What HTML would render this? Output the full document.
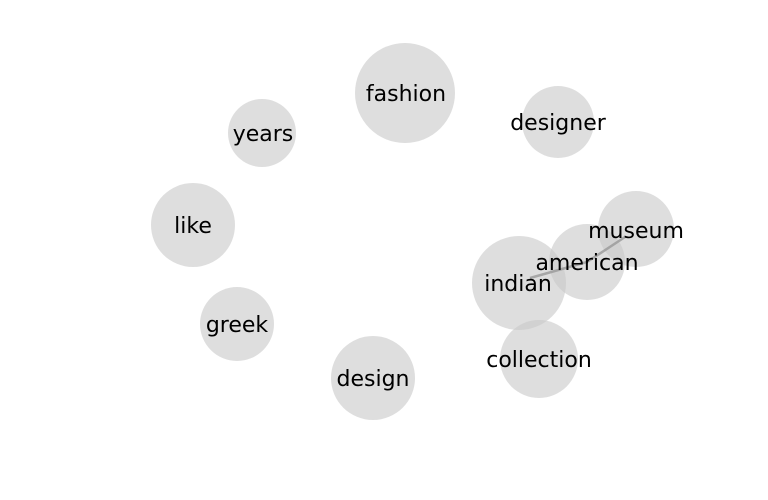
<!DOCTYPE html>
<html><head><style>html,body{margin:0;padding:0;background:#fff;overflow:hidden}svg{display:block}</style></head>
<body>
<svg width="768" height="500" xmlns="http://www.w3.org/2000/svg" font-family="DejaVu Sans, Liberation Sans, sans-serif" font-size="22" text-anchor="middle">
<rect width="768" height="500" fill="#fff"/>
<g fill="#c8c8c8" fill-opacity="0.6">
<circle cx="405" cy="93" r="50"/>
<circle cx="262" cy="133" r="34"/>
<circle cx="558" cy="122" r="36"/>
<circle cx="193" cy="225" r="42"/>
<circle cx="636" cy="229" r="38"/>
<circle cx="587" cy="262" r="38"/>
<circle cx="519" cy="283" r="47"/>
<circle cx="237" cy="324" r="37"/>
<circle cx="539" cy="359" r="39"/>
<circle cx="373" cy="378" r="42"/>
</g>
<polyline points="530,278 587,262 625,237" fill="none" stroke="#999" stroke-width="2.5" stroke-opacity="0.8"/>
<g fill="#000">
<text x="406" y="101">fashion</text>
<text x="263" y="141">years</text>
<text x="558" y="130">designer</text>
<text x="193" y="233">like</text>
<text x="636" y="238">museum</text>
<text x="587" y="270">american</text>
<text x="518" y="291">indian</text>
<text x="237" y="332">greek</text>
<text x="539" y="367">collection</text>
<text x="373" y="386">design</text>
</g>
</svg>
</body></html>
